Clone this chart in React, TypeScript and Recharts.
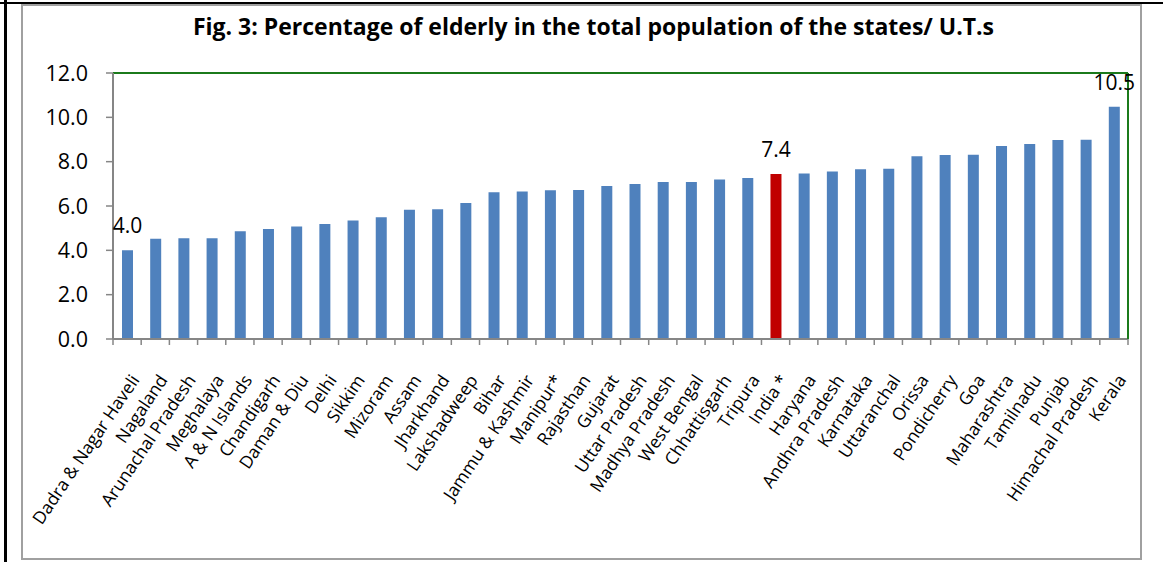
import React from 'react';
import { BarChart, Bar, XAxis, YAxis, CartesianGrid, Cell, LabelList, ReferenceLine } from 'recharts';

const categories = [
  'Dadra & Nagar Haveli', 'Nagaland', 'Arunachal Pradesh', 'Meghalaya', 'A & N Islands',
  'Chandigarh', 'Daman & Diu', 'Delhi', 'Sikkim', 'Mizoram', 'Assam', 'Jharkhand',
  'Lakshadweep', 'Bihar', 'Jammu & Kashmir', 'Manipur*', 'Rajasthan', 'Gujarat',
  'Uttar Pradesh', 'Madhya Pradesh', 'West Bengal', 'Chhattisgarh', 'Tripura', 'India *',
  'Haryana', 'Andhra Pradesh', 'Karnataka', 'Uttaranchal', 'Orissa', 'Pondicherry', 'Goa',
  'Maharashtra', 'Tamilnadu', 'Punjab', 'Himachal Pradesh', 'Kerala',
];

const values = [
  4.0, 4.52, 4.54, 4.55, 4.86, 4.96, 5.07, 5.19, 5.35, 5.49, 5.83, 5.85,
  6.13, 6.62, 6.65, 6.71, 6.72, 6.9, 6.99, 7.08, 7.08, 7.2, 7.26, 7.44,
  7.47, 7.56, 7.66, 7.68, 8.24, 8.3, 8.31, 8.71, 8.8, 8.98, 8.99, 10.48,
];

const highlightedCategory = 'India *';
const labelledCategories = ['Dadra & Nagar Haveli', 'India *', 'Kerala'];
const yTicks = [0, 2, 4, 6, 8, 10, 12];

const title = 'Fig. 3: Percentage of elderly in the total population of the states/ U.T.s';

const data = categories.map((name, i) => ({ name, value: values[i] }));

const W = 1163;
const H = 562;
const MARGIN = { top: 73, right: 34, bottom: 23, left: 53 };
const YAXIS_W = 60;
const RAXIS_W = 1;
const XAXIS_H = 200;
const PLOT_W = W - MARGIN.left - MARGIN.right - YAXIS_W - RAXIS_W;
const STEP = PLOT_W / categories.length;

const FONT = '"Open Sans", "Noto Sans", sans-serif';
const AXIS_GREY = '#868686';
const BLUE = '#4F81BD';
const RED = '#C00000';
const GREEN = '#1B7A1B';

function CategoryTick(props: any) {
  const { x, y, payload, index } = props;
  const tx = x + 13;
  const ty = y + 41;
  const last = index === categories.length - 1;
  return (
    <g>
      <line x1={x - STEP / 2} x2={x - STEP / 2} y1={y} y2={y + 6} stroke={AXIS_GREY} strokeWidth={1.5} />
      {last && (
        <line x1={x + STEP / 2} x2={x + STEP / 2} y1={y} y2={y + 6} stroke={AXIS_GREY} strokeWidth={1.5} />
      )}
      <text
        x={tx}
        y={ty}
        textAnchor="end"
        transform={`rotate(-56, ${tx}, ${ty})`}
        fontFamily={FONT}
        fontSize={17.5}
        fill="#000"
      >
        {payload.value}
      </text>
    </g>
  );
}

function ValueLabel(props: any) {
  const { x, y, width, value, index } = props;
  if (!labelledCategories.includes(categories[index])) return null;
  return (
    <text
      x={x + width / 2}
      y={y - 17}
      textAnchor="middle"
      fontFamily={FONT}
      fontSize={21}
      fill="#000"
    >
      {Number(value).toFixed(1)}
    </text>
  );
}

export default function App() {
  return (
    <div style={{ position: 'absolute', left: 0, top: 0, width: W, height: H, background: '#fff' }}>
      <div style={{ position: 'absolute', left: 0, top: 2, width: W, height: 2, background: '#000' }} />
      <div style={{ position: 'absolute', left: 4, top: 0, width: 3, height: H, background: '#000' }} />
      <div
        style={{
          position: 'absolute', left: 21, top: 4, width: 1117, height: 552,
          border: '2px solid #A0A0A0',
        }}
      />
      <div
        style={{
          position: 'absolute', left: 0, top: 10, width: W, paddingLeft: 24, boxSizing: 'border-box',
          textAlign: 'center', fontFamily: FONT, fontWeight: 700, fontSize: 23, color: '#000',
          lineHeight: '32px',
        }}
      >
        {title}
      </div>
      <div style={{ position: 'absolute', left: 0, top: 0 }}>
        <BarChart width={W} height={H} data={data} margin={MARGIN} barSize={11}>
          <CartesianGrid vertical={false} stroke="#8C8C8C" strokeDasharray="2 2" strokeWidth={1.3} />
          <XAxis
            dataKey="name"
            interval={0}
            height={XAXIS_H}
            tickSize={0}
            tickMargin={0}
            tickLine={false}
            axisLine={{ stroke: AXIS_GREY, strokeWidth: 2 }}
            tick={<CategoryTick />}
          />
          <YAxis
            yAxisId="left"
            width={YAXIS_W}
            domain={[0, 12]}
            ticks={yTicks}
            tickFormatter={(v: number) => v.toFixed(1)}
            tickSize={7}
            tickMargin={18}
            axisLine={{ stroke: AXIS_GREY, strokeWidth: 2 }}
            tickLine={{ stroke: AXIS_GREY, strokeWidth: 1.5 }}
            tick={{ fontFamily: FONT, fontSize: 21.5, fill: '#000' }}
            allowDataOverflow
          />
          <YAxis
            yAxisId="right"
            orientation="right"
            width={RAXIS_W}
            domain={[0, 12]}
            tick={false}
            tickLine={false}
            axisLine={{ stroke: GREEN, strokeWidth: 2 }}
          />
          <ReferenceLine yAxisId="left" y={12} stroke={GREEN} strokeWidth={2} />
          <Bar yAxisId="left" dataKey="value" isAnimationActive={false}>
            {data.map((d) => (
              <Cell key={d.name} fill={d.name === highlightedCategory ? RED : BLUE} />
            ))}
            <LabelList dataKey="value" content={<ValueLabel />} />
          </Bar>
        </BarChart>
      </div>
    </div>
  );
}
